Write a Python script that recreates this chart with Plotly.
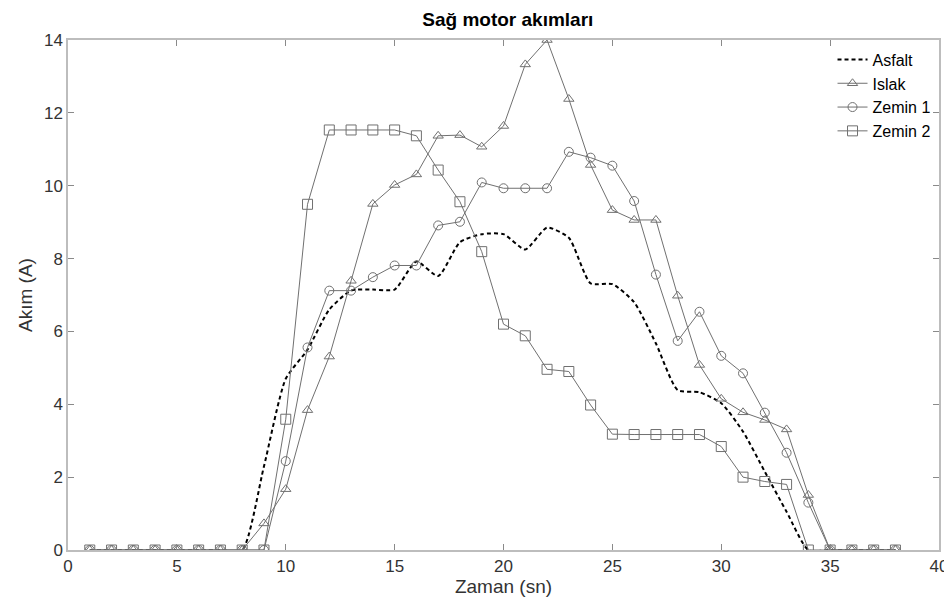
import plotly.graph_objects as go

zaman = list(range(1, 39))

asfalt = [0, 0, 0, 0, 0, 0, 0, 0, 2.3, 4.7, 5.5, 6.6, 7.12, 7.15, 7.15, 7.92, 7.52, 8.45,
          8.67, 8.67, 8.25, 8.85, 8.57, 7.32, 7.3, 6.8, 5.67, 4.39, 4.33, 4.03, 3.25, 2.15,
          1.05, 0, 0, 0, 0, 0]
islak = [0, 0, 0, 0, 0, 0, 0, 0, 0.73, 1.67, 3.84, 5.31, 7.39, 9.5, 10.02, 10.31, 11.37,
         11.39, 11.07, 11.64, 13.33, 14.0, 12.38, 10.57, 9.33, 9.06, 9.06, 6.98, 5.08, 4.15,
         3.78, 3.57, 3.31, 1.51, 0, 0, 0, 0]
zemin1 = [0, 0, 0, 0, 0, 0, 0, 0, 0, 2.44, 5.56, 7.12, 7.12, 7.49, 7.81, 7.81, 8.91, 9.01,
          10.09, 9.93, 9.93, 9.93, 10.93, 10.77, 10.55, 9.58, 7.56, 5.74, 6.54, 5.33, 4.85,
          3.77, 2.67, 1.30, 0, 0, 0, 0]
zemin2 = [0, 0, 0, 0, 0, 0, 0, 0, 0, 3.59, 9.49, 11.53, 11.53, 11.53, 11.53, 11.37, 10.43,
          9.56, 8.19, 6.2, 5.88, 4.96, 4.90, 3.98, 3.18, 3.17, 3.17, 3.17, 3.17, 2.84, 2.0,
          1.88, 1.80, 0, 0, 0, 0, 0]

x_ticks = [0, 5, 10, 15, 20, 25, 30, 35, 40]
y_ticks = [0, 2, 4, 6, 8, 10, 12, 14]

FONT = "Liberation Sans, Arial, sans-serif"
gray = "#707070"

fig = go.Figure()
fig.add_trace(go.Scatter(x=zaman, y=asfalt, name="Asfalt", mode="lines",
                         line=dict(color="black", width=2, dash="4px,3px", shape="spline",
                                   smoothing=0.6)))
fig.add_trace(go.Scatter(x=zaman, y=islak, name="Islak", mode="lines+markers",
                         line=dict(color=gray, width=1),
                         marker=dict(symbol="triangle-up-open", size=9,
                                     color=gray, line=dict(color=gray, width=1))))
fig.add_trace(go.Scatter(x=zaman, y=zemin1, name="Zemin 1", mode="lines+markers",
                         line=dict(color=gray, width=1),
                         marker=dict(symbol="circle-open", size=9,
                                     color=gray, line=dict(color=gray, width=1))))
fig.add_trace(go.Scatter(x=zaman, y=zemin2, name="Zemin 2", mode="lines+markers",
                         line=dict(color=gray, width=1),
                         marker=dict(symbol="square-open", size=10,
                                     color=gray, line=dict(color=gray, width=1))))

axis_common = dict(showgrid=False, zeroline=False, showline=True, mirror="ticks",
                   linecolor="#bdbdbd", linewidth=1.5, ticks="inside", ticklen=6,
                   tickcolor="#8a8a8a", tickfont=dict(family=FONT, size=17, color="#333333"))

fig.update_layout(
    width=952, height=605,
    margin=dict(l=60, r=13, t=32, b=63),
    paper_bgcolor="white", plot_bgcolor="white",
    title=dict(text="<b>Sağ motor akımları</b>", x=0.525, xref="container", xanchor="center",
               y=0.982, yref="container", yanchor="middle",
               font=dict(family=FONT, size=19, color="black")),
    xaxis=dict(range=[0, 40], tickvals=x_ticks, title=dict(text="Zaman (sn)", standoff=4,
               font=dict(family=FONT, size=19, color="#333333")), **axis_common),
    yaxis=dict(range=[0, 14], tickvals=y_ticks, title=dict(text="Akım (A)", standoff=6,
               font=dict(family=FONT, size=19, color="#333333")), **axis_common),
    legend=dict(x=0.996, xanchor="right", y=0.995, yanchor="top", bgcolor="rgba(0,0,0,0)",
                font=dict(family=FONT, size=16, color="black"), tracegroupgap=0,
                itemwidth=30),
    showlegend=True,
)

fig.write_html("out.html")
